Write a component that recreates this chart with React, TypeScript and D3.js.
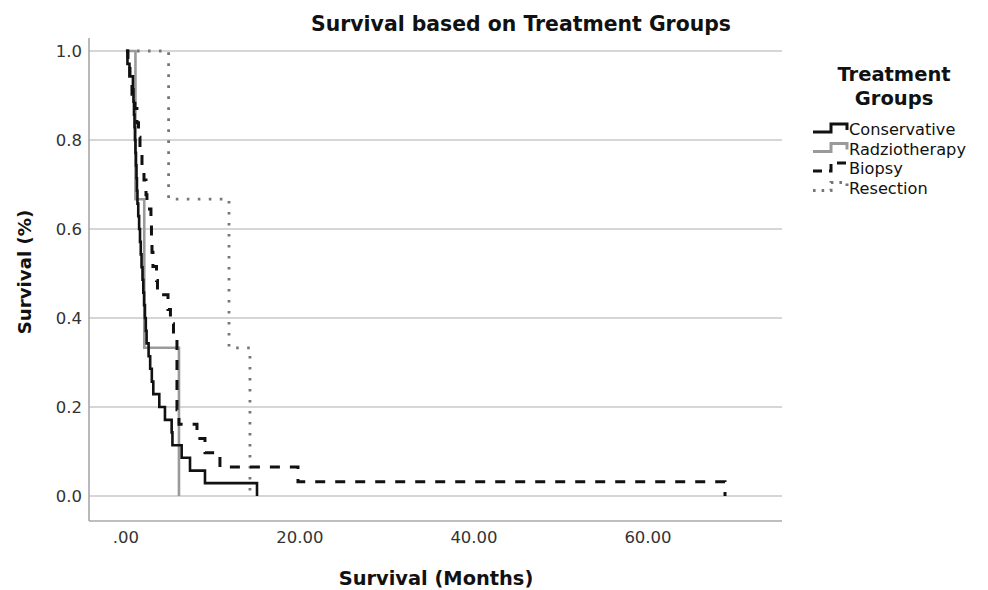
import React from "react";
import * as d3 from "d3";

// ---- data ----
const xTickValues = [0, 20, 40, 60];
const xTickLabels = [".00", "20.00", "40.00", "60.00"];
const yTickValues = [0, 0.2, 0.4, 0.6, 0.8, 1.0];
const yTickLabels = ["0.0", "0.2", "0.4", "0.6", "0.8", "1.0"];

const groupNames = ["Conservative", "Radziotherapy", "Biopsy", "Resection"];

// event times (months) and survival after each event
const conservativeTimes = [
  0.17, 0.4, 0.8, 0.86, 0.92, 0.98, 1.03, 1.09, 1.15, 1.21, 1.26, 1.32, 1.41, 1.51,
  1.61, 1.7, 1.79, 1.9, 1.99, 2.08, 2.18, 2.28, 2.37, 2.6, 2.78, 2.97, 3.14, 3.83,
  4.48, 5.25, 5.34, 6.4, 7.36, 9.08, 15.06,
];
const conservativeSurvival = [
  0.971, 0.943, 0.914, 0.886, 0.857, 0.829, 0.8, 0.771, 0.743, 0.714, 0.686, 0.657,
  0.629, 0.6, 0.571, 0.543, 0.514, 0.486, 0.457, 0.429, 0.4, 0.371, 0.343, 0.314,
  0.286, 0.257, 0.229, 0.2, 0.171, 0.143, 0.114, 0.086, 0.057, 0.029, 0,
];

const radiotherapyTimes = [1.09, 2.1, 6.09];
const radiotherapySurvival = [0.667, 0.333, 0];

const biopsyTimes = [
  0.23, 0.46, 0.69, 1.03, 1.26, 1.44, 1.61, 1.84, 2.07, 2.3, 2.41, 2.87, 2.93, 2.99,
  3.1, 3.51, 3.62, 4.83, 5.11, 5.46, 5.86, 6.09, 8.16, 9.08, 10.8, 19.77, 68.85,
];
const biopsySurvival = [
  0.968, 0.935, 0.903, 0.871, 0.839, 0.806, 0.774, 0.742, 0.71, 0.677, 0.645, 0.613,
  0.581, 0.548, 0.516, 0.484, 0.452, 0.419, 0.387, 0.355, 0.194, 0.161, 0.129, 0.097,
  0.065, 0.032, 0,
];

const resectionTimes = [4.9, 11.84, 14.25];
const resectionSurvival = [0.667, 0.333, 0];

// ---- styling / layout ----
const W = 988;
const H = 590;
const plotLeft = 89;
const plotRight = 782;
const plotTop = 38;
const plotBottom = 521;
const FONT = "'DejaVu Sans', Verdana, sans-serif";

const seriesStyles = [
  { stroke: "#111", dash: "none", width: 2.6 },
  { stroke: "#9a9a9a", dash: "none", width: 2.6 },
  { stroke: "#111", dash: "10,10", width: 3 },
  { stroke: "#777", dash: "2.6,8.4", width: 2.8 },
];

type Pt = { t: number; s: number };

function buildPoints(times: number[], surv: number[]): Pt[] {
  const pts: Pt[] = [{ t: 0, s: 1 }];
  times.forEach((t, i) => pts.push({ t, s: surv[i] }));
  return pts;
}

export default function App() {
  const x = d3.scaleLinear().domain([-4.25, 75.4]).range([plotLeft, plotRight]);
  const y = d3.scaleLinear().domain([0, 1]).range([496, 51]);

  const series = [
    buildPoints(conservativeTimes, conservativeSurvival),
    buildPoints(radiotherapyTimes, radiotherapySurvival),
    buildPoints(biopsyTimes, biopsySurvival),
    buildPoints(resectionTimes, resectionSurvival),
  ];

  const line = d3
    .line<Pt>()
    .x((d) => x(d.t))
    .y((d) => y(d.s))
    .curve(d3.curveStepAfter);

  const drawOrder = [3, 1, 2, 0];

  // legend symbol (a small step) drawn with a line generator
  const legendLine = d3
    .line<[number, number]>()
    .x((d) => d[0])
    .y((d) => d[1]);
  const symbolShape: [number, number][] = [
    [813, 8],
    [831, 8],
    [831, 0],
    [847, 0],
    [847, 6],
  ];
  const legendRowBase = [124, 143.5, 163, 182.5];

  return (
    <svg
      width={W}
      height={H}
      viewBox={`0 0 ${W} ${H}`}
      style={{ position: "absolute", left: 0, top: 0, background: "#fff" }}
    >
      <rect x={0} y={0} width={W} height={H} fill="#fff" />
      {/* gridlines */}
      {yTickValues.map((v) => (
        <line
          key={"g" + v}
          x1={plotLeft}
          x2={plotRight}
          y1={y(v)}
          y2={y(v)}
          stroke="#c8c8c8"
          strokeWidth={1.5}
        />
      ))}
      {/* axes */}
      <line x1={plotLeft} x2={plotLeft} y1={plotTop} y2={plotBottom} stroke="#a8a8a8" strokeWidth={1.6} />
      <line x1={plotLeft} x2={plotRight} y1={plotBottom} y2={plotBottom} stroke="#a8a8a8" strokeWidth={1.6} />

      {/* y tick labels */}
      {yTickValues.map((v, i) => (
        <text
          key={"yt" + v}
          x={82}
          y={y(v)}
          dy="0.36em"
          textAnchor="end"
          fontFamily={FONT}
          fontSize={16.5}
          fill="#333"
        >
          {yTickLabels[i]}
        </text>
      ))}
      {/* x tick labels */}
      {xTickValues.map((v, i) => (
        <text
          key={"xt" + v}
          x={x(v)}
          y={543}
          textAnchor="middle"
          fontFamily={FONT}
          fontSize={16.5}
          fill="#333"
        >
          {xTickLabels[i]}
        </text>
      ))}

      {/* series */}
      {drawOrder.map((i) => (
        <path
          key={"s" + i}
          d={line(series[i]) || ""}
          fill="none"
          stroke={seriesStyles[i].stroke}
          strokeWidth={seriesStyles[i].width}
          strokeDasharray={seriesStyles[i].dash}
          strokeLinecap="butt"
        />
      ))}

      {/* titles */}
      <text x={521} y={31} textAnchor="middle" fontFamily={FONT} fontSize={20.4} fontWeight="bold" fill="#111">
        Survival based on Treatment Groups
      </text>
      <text x={436} y={585} textAnchor="middle" fontFamily={FONT} fontSize={19.4} fontWeight="bold" fill="#111">
        Survival (Months)
      </text>
      <text
        transform={`translate(31,272) rotate(-90)`}
        textAnchor="middle"
        fontFamily={FONT}
        fontSize={18.2}
        fontWeight="bold"
        fill="#111"
      >
        Survival (%)
      </text>

      {/* legend */}
      <text x={894} y={81} textAnchor="middle" fontFamily={FONT} fontSize={19.5} fontWeight="bold" fill="#111">
        Treatment
      </text>
      <text x={894} y={105} textAnchor="middle" fontFamily={FONT} fontSize={19.5} fontWeight="bold" fill="#111">
        Groups
      </text>
      {groupNames.map((name, i) => (
        <g key={"lg" + name}>
          <path
            d={legendLine(symbolShape.map((p) => [p[0], p[1] + legendRowBase[i]] as [number, number])) || ""}
            fill="none"
            stroke={seriesStyles[i].stroke}
            strokeWidth={3}
            strokeDasharray={i === 2 ? "9,7" : i === 3 ? "2.6,6" : "none"}
          />
          <text x={849} y={legendRowBase[i] + 11} fontFamily={FONT} fontSize={16.2} fill="#111">
            {name}
          </text>
        </g>
      ))}
    </svg>
  );
}
